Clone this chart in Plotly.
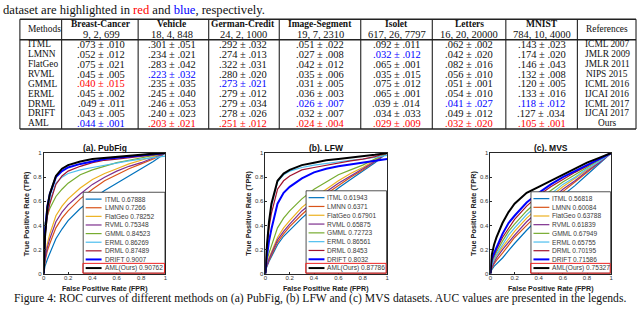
import plotly.graph_objects as go

# ---------------- data ----------------
TOP_LINE = ["dataset are highlighted in ", "red", " and ", "blue", ", respectively."]

TABLE_METHODS = ["ITML", "LMNN", "FlatGeo", "RVML", "GMML", "ERML", "DRML", "DRIFT", "AML"]
TABLE_DATASETS = ["Breast-Cancer", "Vehicle", "German-Credit", "Image-Segment", "Isolet", "Letters", "MNIST"]
TABLE_DIMS = ["9, 2, 699", "18, 4, 848", "24, 2, 1000", "19, 7, 2310", "617, 26, 7797", "16, 20, 20000", "784, 10, 4000"]
REFERENCES = ["ICML 2007", "JMLR 2009", "JMLR 2011", "NIPS 2015", "ICML 2016", "IJCAI 2016", "ICML 2017", "IJCAI 2017", "Ours"]

breast_vals = [".073 ± .010", ".052 ± .012", ".075 ± .021", ".045 ± .005", ".040 ± .015", ".045 ± .002", ".049 ± .011", ".043 ± .005", ".044 ± .001"]
breast_mark = ["", "", "", "", "r", "", "", "", "b"]
vehicle_vals = [".301 ± .051", ".234 ± .021", ".283 ± .042", ".223 ± .032", ".235 ± .035", ".245 ± .040", ".246 ± .053", ".240 ± .023", ".203 ± .021"]
vehicle_mark = ["", "", "", "b", "", "", "", "", "r"]
german_vals = [".292 ± .032", ".274 ± .013", ".322 ± .031", ".280 ± .020", ".273 ± .021", ".279 ± .012", ".279 ± .034", ".278 ± .026", ".251 ± .012"]
german_mark = ["", "", "", "", "b", "", "", "", "r"]
imgseg_vals = [".051 ± .022", ".027 ± .008", ".042 ± .012", ".035 ± .006", ".031 ± .005", ".036 ± .003", ".026 ± .007", ".032 ± .007", ".024 ± .004"]
imgseg_mark = ["", "", "", "", "", "", "b", "", "r"]
isolet_vals = [".092 ± .011", ".032 ± .012", ".065 ± .001", ".035 ± .015", ".075 ± .012", ".065 ± .001", ".039 ± .014", ".034 ± .033", ".029 ± .009"]
isolet_mark = ["", "b", "", "", "", "", "", "", "r"]
letters_vals = [".062 ± .002", ".042 ± .020", ".082 ± .016", ".056 ± .010", ".051 ± .001", ".054 ± .010", ".041 ± .027", ".049 ± .012", ".032 ± .020"]
letters_mark = ["", "", "", "", "", "", "b", "", "r"]
mnist_vals = [".143 ± .023", ".174 ± .020", ".146 ± .043", ".132 ± .008", ".120 ± .005", ".133 ± .016", ".118 ± .012", ".127 ± .034", ".105 ± .001"]
mnist_mark = ["", "", "", "", "", "", "b", "", "r"]

ROC_METHODS = ["ITML", "LMNN", "FlatGeo", "RVML", "GMML", "ERML", "DRML", "DRIFT", "AML(Ours)"]
ROC_COLORS = ["#0072BD", "#D95319", "#EDB120", "#7E2F8E", "#77AC30", "#4DBEEE", "#A2142F", "#0000FF", "#000000"]

FPR = [0, 0.01, 0.03, 0.05, 0.1, 0.15, 0.2, 0.3, 0.4, 0.5, 0.6, 0.7, 0.8, 0.9, 1.0]

pubfig_auc = ["0.67888", "0.7266", "0.78252", "0.75348", "0.84523", "0.86269", "0.87489", "0.9007", "0.90762"]
pubfig_tpr = [
    [0, 0.06, 0.12, 0.17, 0.29, 0.37, 0.44, 0.54, 0.62, 0.69, 0.75, 0.81, 0.87, 0.93, 1.0],
    [0, 0.10, 0.19, 0.25, 0.38, 0.46, 0.52, 0.62, 0.70, 0.77, 0.82, 0.87, 0.91, 0.95, 1.0],
    [0, 0.14, 0.25, 0.33, 0.48, 0.56, 0.62, 0.71, 0.78, 0.83, 0.87, 0.91, 0.94, 0.97, 1.0],
    [0, 0.12, 0.22, 0.29, 0.43, 0.51, 0.57, 0.66, 0.74, 0.80, 0.85, 0.89, 0.92, 0.96, 1.0],
    [0, 0.42, 0.48, 0.54, 0.64, 0.70, 0.75, 0.82, 0.86, 0.89, 0.92, 0.94, 0.96, 0.98, 1.0],
    [0, 0.30, 0.50, 0.60, 0.75, 0.80, 0.83, 0.86, 0.88, 0.90, 0.92, 0.935, 0.95, 0.965, 0.975],
    [0, 0.30, 0.48, 0.58, 0.74, 0.81, 0.85, 0.89, 0.92, 0.94, 0.95, 0.96, 0.97, 0.985, 1.0],
    [0, 0.35, 0.56, 0.66, 0.80, 0.85, 0.88, 0.91, 0.93, 0.95, 0.96, 0.97, 0.98, 0.99, 1.0],
    [0, 0.30, 0.55, 0.66, 0.81, 0.87, 0.90, 0.93, 0.95, 0.96, 0.97, 0.98, 0.985, 0.995, 1.0],
]

lfw_auc = ["0.61943", "0.6371", "0.67901", "0.65875", "0.72723", "0.86561", "0.8453", "0.8032", "0.87786"]
lfw_tpr = [
    [0, 0.05, 0.10, 0.14, 0.24, 0.31, 0.36, 0.46, 0.55, 0.63, 0.71, 0.78, 0.85, 0.92, 1.0],
    [0, 0.06, 0.11, 0.15, 0.26, 0.33, 0.39, 0.49, 0.58, 0.66, 0.73, 0.80, 0.86, 0.93, 1.0],
    [0, 0.07, 0.13, 0.18, 0.30, 0.38, 0.44, 0.55, 0.63, 0.70, 0.77, 0.83, 0.88, 0.94, 1.0],
    [0, 0.06, 0.12, 0.17, 0.28, 0.35, 0.41, 0.52, 0.60, 0.68, 0.75, 0.81, 0.87, 0.93, 1.0],
    [0, 0.10, 0.17, 0.23, 0.38, 0.46, 0.52, 0.62, 0.70, 0.76, 0.82, 0.86, 0.90, 0.95, 1.0],
    [0, 0.20, 0.42, 0.56, 0.76, 0.82, 0.85, 0.88, 0.90, 0.915, 0.93, 0.94, 0.95, 0.965, 0.98],
    [0, 0.18, 0.38, 0.50, 0.70, 0.77, 0.81, 0.86, 0.88, 0.90, 0.92, 0.935, 0.95, 0.97, 1.0],
    [0, 0.12, 0.27, 0.37, 0.58, 0.67, 0.72, 0.79, 0.84, 0.87, 0.89, 0.905, 0.92, 0.935, 0.95],
    [0, 0.20, 0.43, 0.58, 0.77, 0.83, 0.86, 0.90, 0.92, 0.94, 0.95, 0.96, 0.97, 0.985, 1.0],
]

mvs_auc = ["0.56818", "0.60084", "0.63788", "0.61839", "0.67949", "0.65755", "0.70195", "0.71586", "0.75327"]
mvs_tpr = [
    [0, 0.03, 0.06, 0.08, 0.13, 0.19, 0.25, 0.36, 0.46, 0.56, 0.65, 0.73, 0.82, 0.91, 1.0],
    [0, 0.04, 0.08, 0.11, 0.17, 0.24, 0.30, 0.40, 0.50, 0.59, 0.68, 0.76, 0.84, 0.92, 1.0],
    [0, 0.06, 0.11, 0.15, 0.22, 0.29, 0.35, 0.46, 0.55, 0.64, 0.72, 0.79, 0.86, 0.93, 1.0],
    [0, 0.05, 0.09, 0.13, 0.20, 0.26, 0.32, 0.43, 0.52, 0.61, 0.70, 0.77, 0.85, 0.92, 1.0],
    [0, 0.08, 0.13, 0.18, 0.27, 0.35, 0.41, 0.52, 0.61, 0.69, 0.76, 0.82, 0.88, 0.94, 1.0],
    [0, 0.07, 0.12, 0.16, 0.24, 0.32, 0.38, 0.49, 0.58, 0.66, 0.74, 0.80, 0.87, 0.93, 1.0],
    [0, 0.10, 0.15, 0.20, 0.30, 0.38, 0.45, 0.56, 0.65, 0.72, 0.78, 0.84, 0.89, 0.95, 1.0],
    [0, 0.12, 0.17, 0.22, 0.33, 0.42, 0.48, 0.59, 0.67, 0.74, 0.80, 0.85, 0.90, 0.95, 1.0],
    [0, 0.15, 0.24, 0.30, 0.42, 0.51, 0.58, 0.67, 0.72, 0.77, 0.82, 0.87, 0.92, 0.96, 1.0],
]

PANEL_TITLES = ["(a). PubFig", "(b). LFW", "(c). MVS"]
TICKS = [0, 0.2, 0.4, 0.6, 0.8, 1]
TICK_TEXT = ["0", "0.2", "0.4", "0.6", "0.8", "1"]
CAPTION = ("Figure 4: ROC curves of different methods on (a) PubFig, (b) LFW and (c) MVS datasets. "
           "AUC values are presented in the legends.")

# ---------------- layout helpers ----------------
W, H = 640, 310
def px(x): return x / W
def py(y): return 1 - y / H

SERIF = "Liberation Serif"
SANS = "Liberation Sans"
RED = "#ff0000"
BLUE = "#0000ff"
INK = "#111111"

fig = go.Figure()
shapes = []
annots = []

def note(x, y, text, size, family, color=INK, anchor="center", angle=0):
    annots.append(dict(x=px(x), y=py(y), xref="paper", yref="paper", text=text, showarrow=False,
                       xanchor=anchor, yanchor="middle", textangle=angle, borderpad=0,
                       font=dict(family=family, size=size, color=color)))

# ---------------- top text ----------------
top_html = "".join(
    f'<span style="color:{RED}">{t}</span>' if t == "red" else
    f'<span style="color:{BLUE}">{t}</span>' if t == "blue" else t
    for t in TOP_LINE)
note(0, 7.3, top_html, 12.6, SERIF, anchor="left")

# ---------------- table ----------------
col_edges = [18, 60, 137, 208, 279, 361, 433, 507, 579, 638]
col_centers = [None, 100, 171, 243, 320, 397, 470, 543, 609]
t_top, t_mid, t_bot = 16.5, 37.5, 128.5
for yy in (t_top, t_mid, t_bot):
    shapes.append(dict(type="line", xref="paper", yref="paper", x0=px(col_edges[0]), x1=px(col_edges[-1]),
                       y0=py(yy), y1=py(yy), line=dict(color="#222", width=1.4)))
for xx in col_edges:
    shapes.append(dict(type="line", xref="paper", yref="paper", x0=px(xx), x1=px(xx),
                       y0=py(t_top), y1=py(t_bot), line=dict(color="#222", width=1.1)))

TXT = 9.4
NUM = 10.5
note(25, 27, "Methods", TXT, SERIF, anchor="left")
note(col_centers[8], 27, "References", TXT, SERIF)
for i, (name, dims) in enumerate(zip(TABLE_DATASETS, TABLE_DIMS)):
    cx = col_centers[i + 1]
    note(cx, 21.5, f"<b>{name}</b>", 9.5, SERIF)
    note(cx, 31.8, dims, 10.5, SERIF)

value_cols = [(breast_vals, breast_mark), (vehicle_vals, vehicle_mark), (german_vals, german_mark),
              (imgseg_vals, imgseg_mark), (isolet_vals, isolet_mark), (letters_vals, letters_mark),
              (mnist_vals, mnist_mark)]
row_y = [42.3 + 10.05 * r for r in range(9)]
for r, m in enumerate(TABLE_METHODS):
    note(25, row_y[r], m, TXT, SERIF, anchor="left")
    note(col_centers[8], row_y[r], REFERENCES[r], TXT, SERIF)
    for c, (vals, marks) in enumerate(value_cols):
        col = RED if marks[r] == "r" else BLUE if marks[r] == "b" else INK
        note(col_centers[c + 1], row_y[r], vals[r], NUM, SERIF, color=col)

# ---------------- ROC panels ----------------
panels = [
    dict(x0=42, x1=164.5, tpr=pubfig_tpr, auc=pubfig_auc, legL=81.7, legT=193),
    dict(x0=265, x1=387.5, tpr=lfw_tpr, auc=lfw_auc, legL=306, legT=191.5),
    dict(x0=491.5, x1=613, tpr=mvs_tpr, auc=mvs_auc, legL=532.3, legT=192.5),
]
ax_top, ax_bot = 153, 276

for k, p in enumerate(panels):
    sfx = "" if k == 0 else str(k + 1)
    xa, ya = "x" + sfx, "y" + sfx
    for i, name in enumerate(ROC_METHODS):
        fig.add_trace(go.Scatter(x=FPR, y=p["tpr"][i], mode="lines", xaxis=xa, yaxis=ya,
                                 line=dict(color=ROC_COLORS[i], width=2.0 if i >= 7 else 1.2),
                                 showlegend=False, hoverinfo="skip"))
    axis_common = dict(range=[0, 1], showline=True, linecolor="#262626", linewidth=0.8, mirror=True,
                       ticks="inside", ticklen=2, tickcolor="#262626", tickvals=TICKS, ticktext=TICK_TEXT,
                       tickfont=dict(family=SANS, size=6, color="#333"), showgrid=False, zeroline=False,
                       fixedrange=True)
    fig.layout["xaxis" + sfx] = dict(domain=[px(p["x0"]), px(p["x1"])], anchor=ya, ticklabelstandoff=-2,
                                     **axis_common)
    fig.layout["yaxis" + sfx] = dict(domain=[py(ax_bot), py(ax_top)], anchor=xa, **axis_common)

    cx = (p["x0"] + p["x1"]) / 2
    note(cx, 148, f"<b>{PANEL_TITLES[k]}</b>", 8.5, SANS)
    note(cx, 291.6, "<b>False Positive Rate (FPR)</b>", 7.1, SANS, color="#222")
    note(p["x0"] - 17, (ax_top + ax_bot) / 2, "<b>True Positive Rate (TPR)</b>", 7.3, SANS,
         color="#222", angle=-90)

    # legend
    L, T, R, B = p["legL"], p["legT"], p["x1"] - 0.5, ax_bot - 0.5
    shapes.append(dict(type="rect", xref="paper", yref="paper", x0=px(L), x1=px(R), y0=py(B), y1=py(T),
                       fillcolor="white", line=dict(color="#262626", width=0.8), layer="above"))
    first = T + 7
    step = (270.3 - first) / 8
    for i, name in enumerate(ROC_METHODS):
        yy = first + i * step
        shapes.append(dict(type="line", xref="paper", yref="paper", x0=px(L + 2.5), x1=px(L + 18.5),
                           y0=py(yy), y1=py(yy), layer="above",
                           line=dict(color=ROC_COLORS[i], width=2.0 if i >= 7 else 1.2)))
        note(L + 20.5, yy, f"{name} {p['auc'][i]}", 6.6, SANS, color="#3a3a3a", anchor="left")
    shapes.append(dict(type="rect", xref="paper", yref="paper", x0=px(L - 0.3), x1=px(R - 0.5),
                       y0=py(B), y1=py(265.5), line=dict(color="#ee2222", width=1), layer="above"))

# ---------------- caption ----------------
note(320.5, 301.3, CAPTION, 11.6, SERIF)

fig.update_layout(width=W, height=H, margin=dict(l=0, r=0, t=0, b=0), paper_bgcolor="white",
                  plot_bgcolor="white", shapes=shapes, annotations=annots, showlegend=False)
fig.write_html("out.html", config={"displayModeBar": False},
               post_script="document.body.style.margin='0';document.body.style.overflow='hidden';")
